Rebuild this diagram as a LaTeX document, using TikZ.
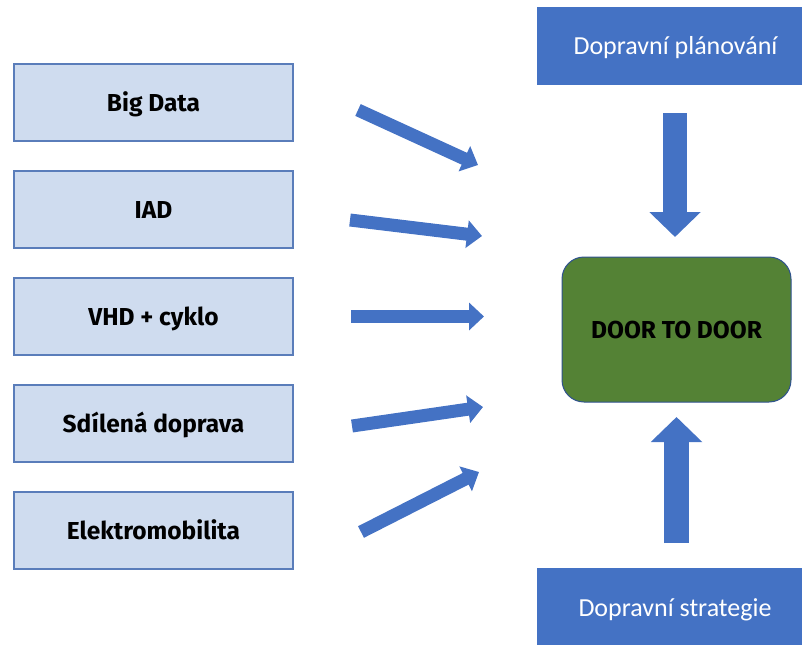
\documentclass[tikz,border=0pt]{standalone}
\usepackage{fontspec}
\setmainfont{Carlito}
\newfontfamily\labelfont{Fira Sans}
\usetikzlibrary{arrows.meta}

\definecolor{paleblue}{HTML}{CFDCEF}
\definecolor{edgeblue}{HTML}{5A7DBA}
\definecolor{officeblue}{HTML}{4472C4}
\definecolor{darkblue}{HTML}{2F528F}
\definecolor{leafgreen}{HTML}{548235}

\tikzset{
  boldlabel/.style={font=\labelfont\bfseries\fontsize{24.5}{28}\selectfont,
    text height=17pt, text depth=-2.5pt},
  inbox/.style={boldlabel, draw=edgeblue, line width=1.2pt, fill=paleblue,
    minimum width=279pt, minimum height=77pt, inner sep=0pt},
  bluetext/.style={text=white, font=\fontsize{26}{30}\selectfont, inner sep=0pt,
    text height=16.7pt, text depth=0pt},
  hubbox/.style={boldlabel, draw=darkblue, line width=1pt, fill=leafgreen,
    rounded corners=22pt, minimum width=229pt, minimum height=145pt, inner sep=0pt},
  feedarrow/.style={draw=officeblue, line width=13pt, line cap=butt,
    -{Triangle[length=15pt, width=27pt]}},
  mainarrow/.style={draw=officeblue, line width=24.5pt, line cap=butt,
    -{Triangle[length=25pt, width=50pt]}}
}

\begin{document}
\begin{tikzpicture}[x=1pt, y=-1pt]
  \useasboundingbox (0,0) rectangle (802,645);

  % input boxes on the left
  \node[inbox] (bigdata) at (153.5,102.5) {Big Data};
  \node[inbox] (iad)     at (153.5,209.5) {IAD};
  \node[inbox] (vhd)     at (153.5,316.5) {VHD + cyklo};
  \node[inbox] (sdilena) at (153.5,423.5) {Sdílená doprava};
  \node[inbox] (elektro) at (153.5,530.5) {Elektromobilita};

  % planning and strategy boxes, cut off at the right edge
  \fill[officeblue] (537,7) rectangle (802,85);
  \node[bluetext] (planovani) at (675.5,46.5) {Dopravní plánování};
  \fill[officeblue] (537,568) rectangle (802,645);
  \node[bluetext] (strategie) at (675,608.5) {Dopravní strategie};

  % central target
  \node[hubbox] (door) at (676.5,329.5) {DOOR TO DOOR};

  % ends of the feeding arrows
  \coordinate (t1) at (358,110);  \coordinate (h1) at (478,165);
  \coordinate (t2) at (350,220);  \coordinate (h2) at (482,236);
  \coordinate (t3) at (351,316.5);\coordinate (h3) at (484,316.5);
  \coordinate (t4) at (352,426);  \coordinate (h4) at (483,407);
  \coordinate (t5) at (361,532);  \coordinate (h5) at (479,472);

  \draw[feedarrow] (t1) -- (h1);
  \draw[feedarrow] (t2) -- (h2);
  \draw[feedarrow] (t3) -- (h3);
  \draw[feedarrow] (t4) -- (h4);
  \draw[feedarrow] (t5) -- (h5);

  % vertical arrows into the target
  \coordinate (dtop) at (675,113);   \coordinate (dtip) at (675,237);
  \coordinate (ubot) at (676.5,543); \coordinate (utip) at (676.5,417);
  \draw[mainarrow] (dtop) -- (dtip);
  \draw[mainarrow] (ubot) -- (utip);
\end{tikzpicture}
\end{document}
